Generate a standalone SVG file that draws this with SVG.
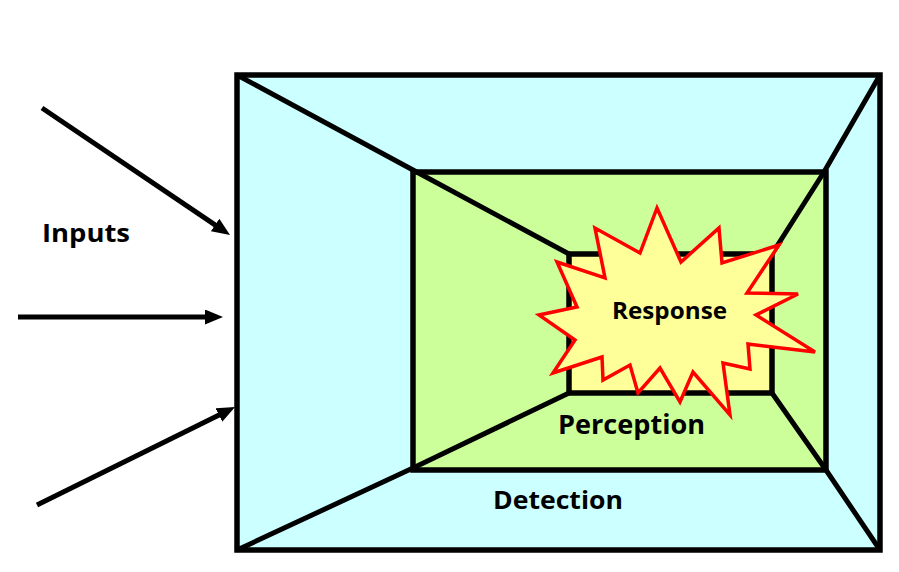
<svg xmlns="http://www.w3.org/2000/svg" width="899" height="572" viewBox="0 0 899 572">
<style>
.frame{stroke:#000;stroke-width:5.5;stroke-linejoin:miter}
.edge{fill:none;stroke:#000;stroke-width:5;stroke-linejoin:round}
.lbl{font-family:"Open Sans","Liberation Sans",sans-serif;font-weight:700;fill:#000}
.arrow{stroke:#000;stroke-width:5;fill:none;marker-end:url(#ah)}
</style>
<defs>
<marker id="ah" viewBox="0 0 12 10" refX="2" refY="5" markerWidth="3.6" markerHeight="3" orient="auto" markerUnits="strokeWidth">
<path d="M0,0 L12,5 L0,10 z" fill="#000"/>
</marker>
</defs>
<rect width="899" height="572" fill="#fff"/>
<g id="detection">
<rect class="frame" x="237" y="75" width="643" height="475" fill="#CCFFFF"/>
</g>
<g id="perception">
<rect class="frame" x="413" y="172" width="413" height="298" fill="#CCFF99"/>
</g>
<g id="response-box">
<rect class="frame" x="569" y="254" width="203" height="139" fill="#FFFF99"/>
</g>
<g id="edges">
<polyline class="edge" points="237,75 413,170 569,254"/>
<polyline class="edge" points="880,75 824,172 772,254"/>
<polyline class="edge" points="237,550 413,468 569,393"/>
<polyline class="edge" points="880,550 826,470 772,393"/>
</g>
<g id="response">
<polygon points="657,208 681,262 719,228 722,263 779,245 747,293 798,294 756,315 815,352 748,344 750,369 723,363 730,415 693,372 680,402 660,368 638,393 630,365 603,380 602,357 553,373 575,340 539,315 577,307 557,262 605,278 595,228 640,253" fill="#FFFF99" stroke="#FF0000" stroke-width="3.5" stroke-linejoin="miter"/>
<text class="lbl" x="612" y="319" font-size="23.5" textLength="115" lengthAdjust="spacingAndGlyphs">Response</text>
</g>
<g id="labels">
<text class="lbl" x="42" y="242" font-size="24.5" textLength="88" lengthAdjust="spacingAndGlyphs">Inputs</text>
<text class="lbl" x="558" y="434" font-size="26" textLength="147" lengthAdjust="spacingAndGlyphs">Perception</text>
<text class="lbl" x="493" y="509" font-size="25" textLength="130" lengthAdjust="spacingAndGlyphs">Detection</text>
</g>
<g id="connectors">
<line class="arrow" x1="42" y1="108" x2="217.6" y2="226.6"/>
<line class="arrow" x1="18" y1="317" x2="208" y2="317"/>
<line class="arrow" x1="37" y1="505" x2="221.6" y2="413.7"/>
</g>
</svg>
